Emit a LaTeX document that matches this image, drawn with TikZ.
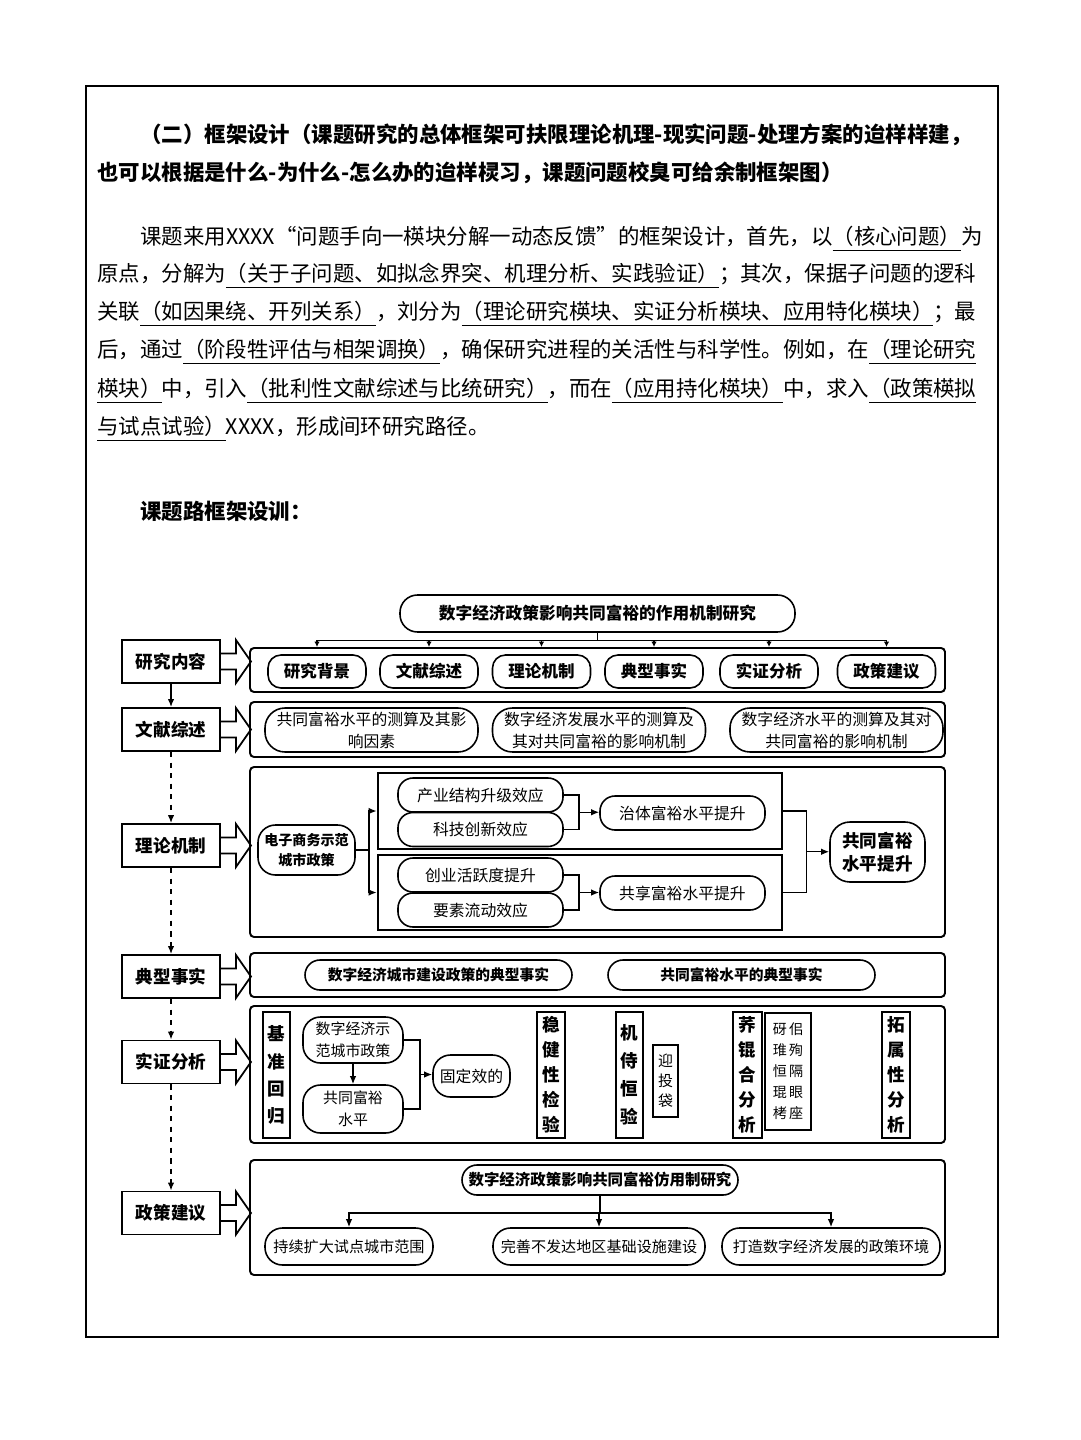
\documentclass[tikz,border=0pt]{standalone}
\usepackage{fontspec}
\setmainfont{Noto Sans CJK SC}
\usetikzlibrary{arrows.meta,calc}
\XeTeXlinebreaklocale "zh"
\XeTeXlinebreakskip=0pt plus 1pt
\newcommand\pxu{0.2mm}
\newcommand\uln[1]{\vtop{\hbox{#1}\kern1.6pt\hrule height .8pt}}
\tikzset{
 pageframe/.style={draw,line width=1.1pt},
 textline/.style={anchor=base west,inner sep=0,font=\fontsize{12.2}{14}\selectfont},
 sidebox/.style={draw,line width=1.1pt,minimum width=98*\pxu,minimum height=43*\pxu,inner sep=0,font=\bfseries\fontsize{10}{12}\selectfont},
 panel/.style={draw,line width=1.1pt,rounded corners=0.8mm,minimum width=695*\pxu,inner sep=0},
 pill/.style={draw,line width=0.9pt,rounded corners=2.6mm,inner sep=0,align=center,font=\fontsize{9}{12.5}\selectfont},
 cell/.style={pill,minimum width=98*\pxu,minimum height=33*\pxu,font=\bfseries\fontsize{9.4}{12}\selectfont},
 wide/.style={pill,rounded corners=4mm,minimum width=213*\pxu,minimum height=44*\pxu},
 effect/.style={pill,rounded corners=3mm,minimum width=165*\pxu,minimum height=34*\pxu},
 group/.style={draw,line width=1.5pt,inner sep=0,minimum width=404*\pxu},
 fact/.style={pill,rounded corners=3mm,minimum width=267*\pxu,minimum height=30*\pxu,font=\bfseries\fontsize{8.4}{11}\selectfont},
 vtext/.style={draw,line width=1.1pt,inner sep=0,align=center,minimum height=126*\pxu,font=\bfseries\fontsize{10}{14.2}\selectfont},
 advice/.style={pill,rounded corners=3.5mm,minimum height=37*\pxu,font=\fontsize{8.6}{11}\selectfont},
 link/.style={line width=0.8pt},
 tip/.style={link,-{Latex[length=1.6mm,width=1.3mm]}},
 smalltip/.style={link,-{Latex[length=1.1mm,width=1.1mm]}},
 fatarrow/.style={line width=1pt,line join=miter}
}
\begin{document}
\begin{tikzpicture}[x=0.2mm,y=-0.2mm]
\useasboundingbox (0,0) rectangle (1080,1440);
\draw[pageframe] (86,86) rectangle (998,1337);
% heading and paragraph
\node[textline,font=\bfseries\fontsize{12.2}{14}\selectfont] (head1) at (140,143) {\hbox to 169mm{（二）框架设计（课题研究的总体框架可扶限理论机理-现实问题-处理方案的迨样样建，}};
\node[textline,font=\bfseries\fontsize{12.2}{14}\selectfont] (head2) at (97,181) {也可以根据是什么-为什么-怎么办的迨样棂习，课题问题校臭可给余制框架图）};
\node[textline] (para1) at (140,245) {\hbox to 169mm{课题来用XXXX“问题手向一楧块分解一动态反馈”的框架设计，首先，以\uln{（核心问题）}为}};
\node[textline] (para2) at (97,282) {\hbox to 177.6mm{原点，分解为\uln{（关于子问题、如拟念界突、机理分析、实践验证）}；其次，保据子问题的逻科}};
\node[textline] (para3) at (97,320) {\hbox to 177.6mm{关联\uln{（如因果绕、开列关系）}，刘分为\uln{（理论研究楧块、实证分析楧块、应用特化楧块）}；最}};
\node[textline] (para4) at (97,358) {\hbox to 177.6mm{后，通过\uln{（阶段牲评估与相架调换）}，确保研究进程的关活性与科学性。例如，在\uln{（理论研究}}};
\node[textline] (para5) at (97,397) {\hbox to 177.6mm{\uln{楧块）}中，引入\uln{（批利性文献综述与比统研究）}，而在\uln{（应用持化楧块）}中，求入\uln{（政策楧拟}}};
\node[textline] (para6) at (97,435) {\uln{与试点试验）}XXXX，形成间环研究路径。};
\node[textline,font=\bfseries\fontsize{12.2}{14}\selectfont] (subhead) at (140,519) {课题路框架设训：};
% left column
\node[sidebox] (nr) at (171,661.5) {研究内容};
\node[sidebox] (wx) at (171,729.5) {文献综述};
\node[sidebox] (ll) at (171,845.5) {理论机制};
\node[sidebox] (dx) at (171,976.5) {典型事实};
\node[sidebox] (sz) at (171,1062) {实证分析};
\node[sidebox] (zc) at (171,1213) {政策建议};
\draw[tip] (nr) -- (wx);
\draw[tip,dashed] (wx) -- (ll);
\draw[tip,dashed] (ll) -- (dx);
\draw[tip,dashed] (dx) -- (sz);
\draw[tip,dashed] (sz) -- (zc);
% panels
\node[panel,minimum height=44*\pxu] (row1) at (597.5,670) {};
\node[panel,minimum height=55*\pxu] (row2) at (597.5,729.5) {};
\node[panel,minimum height=170*\pxu] (row3) at (597.5,852) {};
\node[panel,minimum height=44*\pxu] (row4) at (597.5,975) {};
\node[panel,minimum height=137*\pxu] (row5) at (597.5,1074.5) {};
\node[panel,minimum height=115*\pxu] (row6) at (597.5,1217.5) {};
\draw[fatarrow] ($(nr.east)+(0,-8)$) -- ++(15,0) -- ++(0,-13.5) -- ++(15,21.5) -- ++(-15,21.5) -- ++(0,-13.5) -- ++(-15,0);
\draw[fatarrow] ($(wx.east)+(0,-8)$) -- ++(15,0) -- ++(0,-13.5) -- ++(15,21.5) -- ++(-15,21.5) -- ++(0,-13.5) -- ++(-15,0);
\draw[fatarrow] ($(ll.east)+(0,-8)$) -- ++(15,0) -- ++(0,-13.5) -- ++(15,21.5) -- ++(-15,21.5) -- ++(0,-13.5) -- ++(-15,0);
\draw[fatarrow] ($(dx.east)+(0,-8)$) -- ++(15,0) -- ++(0,-13.5) -- ++(15,21.5) -- ++(-15,21.5) -- ++(0,-13.5) -- ++(-15,0);
\draw[fatarrow] ($(sz.east)+(0,-8)$) -- ++(15,0) -- ++(0,-13.5) -- ++(15,21.5) -- ++(-15,21.5) -- ++(0,-13.5) -- ++(-15,0);
\draw[fatarrow] ($(zc.east)+(0,-8)$) -- ++(15,0) -- ++(0,-13.5) -- ++(15,21.5) -- ++(-15,21.5) -- ++(0,-13.5) -- ++(-15,0);
% research content
\node[pill,rounded corners=3.5mm,minimum width=395*\pxu,minimum height=37*\pxu,font=\bfseries\fontsize{9.5}{12}\selectfont] (topic) at (597.5,613.5) {数字经济政策影响共同富裕的作用机制研究};
\node[cell] (bg) at (317,671.5) {研究背景};
\node[cell] (lit) at (429,671.5) {文献综述};
\node[cell] (mech) at (541.5,671.5) {理论机制};
\node[cell] (fact) at (654,671.5) {典型事实};
\node[cell] (emp) at (769,671.5) {实证分析};
\node[cell] (pol) at (886.5,671.5) {政策建议};
\draw[smalltip] (topic.south) -- ++(0,8) -| (bg.north |- row1.north);
\draw[smalltip] (topic.south) -- ++(0,8) -| (lit.north |- row1.north);
\draw[smalltip] (topic.south) -- ++(0,8) -| (mech.north |- row1.north);
\draw[smalltip] (topic.south) -- ++(0,8) -| (fact.north |- row1.north);
\draw[smalltip] (topic.south) -- ++(0,8) -| (emp.north |- row1.north);
\draw[smalltip] (topic.south) -- ++(0,8) -| (pol.north |- row1.north);
% literature
\node[wide] (lw1) at (371.5,730) {共同富裕水平的测算及其影\\响因素};
\node[wide] (lw2) at (599,730) {数字经济发展水平的测算及\\其对共同富裕的影响机制};
\node[wide] (lw3) at (836.5,730) {数字经济水平的测算及其对\\共同富裕的影响机制};
% theory
\node[pill,rounded corners=3.5mm,minimum width=97*\pxu,minimum height=50*\pxu,font=\bfseries\fontsize{8}{11}\selectfont] (eco) at (306.5,850) {电子商务示范\\城市政策};
\node[group,minimum height=76*\pxu] (g1) at (580,811) {};
\node[group,minimum height=75*\pxu] (g2) at (580,892.5) {};
\node[effect] (e1) at (480.5,795) {产业结构升级效应};
\node[effect] (e2) at (480.5,829.5) {科技创新效应};
\node[effect] (e3) at (480.5,875) {创业活跃度提升};
\node[effect] (e4) at (480.5,910) {要素流动效应};
\node[effect] (up1) at (682.5,813) {治体富裕水平提升};
\node[effect] (up2) at (682.5,893) {共享富裕水平提升};
\node[pill,rounded corners=4mm,minimum width=95*\pxu,minimum height=60*\pxu,font=\bfseries\fontsize{10}{13}\selectfont] (goal) at (877.5,852) {共同富裕\\水平提升};
\draw[tip] (eco.east) -- ++(13,0) |- (g1.west);
\draw[tip] (eco.east) -- ++(13,0) |- (g2.west);
\draw[link] (e1.east) -- ++(15,0) |- (e2.east);
\coordinate (j1) at ($(e1.east)!.5!(e2.east)+(15,0)$);
\draw[tip] (j1) -- (j1 -| up1.west);
\draw[link] (e3.east) -- ++(15,0) |- (e4.east);
\coordinate (j2) at ($(e3.east)!.5!(e4.east)+(15,0)$);
\draw[tip] (j2) -- (j2 -| up2.west);
\draw[link] (g1.east) -- ++(23,0) |- (g2.east);
\coordinate (j3) at ($(g1.east)!.5!(g2.east)+(23,0)$);
\draw[tip] (j3) -- (j3 -| goal.west);
% typical facts
\node[fact] (f1) at (438.5,975) {数字经济城市建设政策的典型事实};
\node[fact] (f2) at (741.5,975) {共同富裕水平的典型事实};
% empirical
\node[vtext,minimum width=27*\pxu,font=\bfseries\fontsize{10}{15.4}\selectfont] (v1) at (276.5,1075) {基\\准\\回\\归};
\node[pill,rounded corners=3.5mm,minimum width=100*\pxu,minimum height=46*\pxu,font=\fontsize{8.5}{12.5}\selectfont] (d1) at (353,1040) {数字经济示\\范城市政策};
\node[pill,rounded corners=3.5mm,minimum width=100*\pxu,minimum height=48*\pxu,font=\fontsize{8.5}{12.5}\selectfont] (d2) at (353,1109) {共同富裕\\水平};
\node[pill,rounded corners=3.5mm,minimum width=77*\pxu,minimum height=42*\pxu] (fe) at (471.5,1076) {固定效的};
\draw[tip] (d1) -- (d2);
\draw[link] (d1.east) -- ++(16,0) |- (d2.east);
\coordinate (j5) at ($(d1.east)!.5!(d2.east)+(16,0)$);
\draw[tip] (j5) -- (j5 -| fe.west);
\node[vtext,minimum width=28*\pxu] (v2) at (551,1075) {稳\\健\\性\\检\\验};
\node[vtext,minimum width=27*\pxu,font=\bfseries\fontsize{10}{16}\selectfont] (v3) at (629.5,1075) {机\\侍\\恒\\验};
\node[vtext,line width=0.9pt,minimum width=25*\pxu,minimum height=72*\pxu,font=\fontsize{8.5}{11.4}\selectfont] (v4) at (665.5,1081) {迎\\投\\袋};
\node[vtext,minimum width=29*\pxu] (v5) at (747.5,1075) {荞\\锟\\合\\分\\析};
\node[vtext,line width=0.9pt,minimum width=46*\pxu,minimum height=117*\pxu,font=\fontsize{8}{12}\selectfont] (v6) at (788,1071.5) {砑\,佀\\琟\,殉\\恒\,隔\\琨\,眼\\栲\,座};
\node[vtext,minimum width=28*\pxu] (v7) at (896,1075) {拓\\属\\性\\分\\析};
% policy
\node[pill,rounded corners=3mm,minimum width=276*\pxu,minimum height=30*\pxu,font=\bfseries\fontsize{8.8}{11}\selectfont] (pt) at (600,1180) {数字经济政策影响共同富裕仿用制研究};
\node[advice,minimum width=168*\pxu] (r1) at (349,1246.5) {持续扩大试点城市范围};
\node[advice,minimum width=212*\pxu] (r2) at (599,1246.5) {完善不发达地区基础设施建设};
\node[advice,minimum width=218*\pxu] (r3) at (831,1246.5) {打造数字经济发展的政策环境};
\draw[tip] (pt.south) -- ++(0,17) -| (r1.north);
\draw[tip] (pt.south) -- ++(0,17) -| (r2.north);
\draw[tip] (pt.south) -- ++(0,17) -| (r3.north);
\end{tikzpicture}
\end{document}
